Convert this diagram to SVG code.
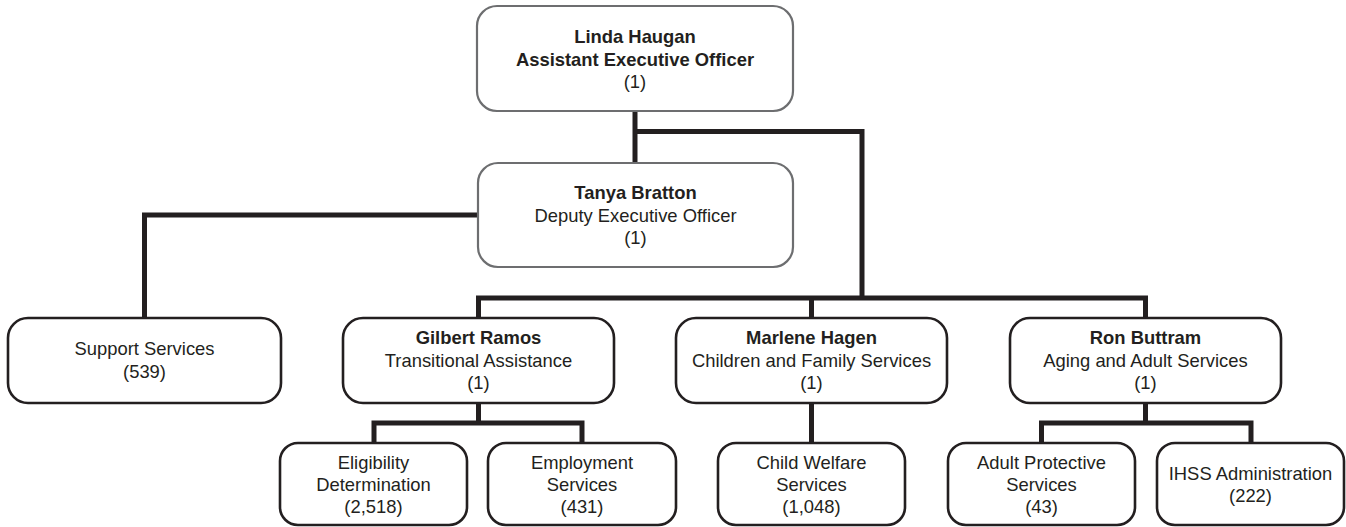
<svg xmlns="http://www.w3.org/2000/svg" width="1346" height="527" viewBox="0 0 1346 527">
<style>
.bg{fill:#ffffff}
.exec{fill:#ffffff;stroke:#6d6e70;stroke-width:2.2}
.box{fill:#ffffff;stroke:#231f20;stroke-width:2.6}
.conn{fill:none;stroke:#231f20;stroke-width:5;stroke-linejoin:miter;stroke-linecap:butt}
text{font-family:"Liberation Sans",Arial,sans-serif;font-size:18.4px;fill:#231f20;text-anchor:middle}
.b{font-weight:bold}
</style>
<rect class="bg" x="0" y="0" width="1346" height="527"/>
<g id="connectors">
<path class="conn" d="M635 111 V163"/>
<path class="conn" d="M635 131.5 H862 V298"/>
<path class="conn" d="M478.5 318 V298 H1145.5 V318"/>
<path class="conn" d="M811.5 298 V318"/>
<path class="conn" d="M478 215 H144.5 V318"/>
<path class="conn" d="M478.5 403 V423"/>
<path class="conn" d="M374 443 V423 H582 V443"/>
<path class="conn" d="M811.5 403 V443"/>
<path class="conn" d="M1145.5 403 V423"/>
<path class="conn" d="M1041.5 443 V423 H1251 V443"/>
</g>
<g id="linda-haugan">
<rect class="exec" x="477" y="6" width="316" height="105" rx="20"/>
<text class="b" x="635" y="43">Linda Haugan</text>
<text class="b" x="635" y="65.5">Assistant Executive Officer</text>
<text x="635" y="88">(1)</text>
</g>
<g id="tanya-bratton">
<rect class="exec" x="478" y="163" width="315" height="104" rx="20"/>
<text class="b" x="635.5" y="199">Tanya Bratton</text>
<text x="635.5" y="221.5">Deputy Executive Officer</text>
<text x="635.5" y="244">(1)</text>
</g>
<g id="support-services">
<rect class="box" x="8" y="318" width="273" height="85" rx="20"/>
<text x="144.5" y="355">Support Services</text>
<text x="144.5" y="377.5">(539)</text>
</g>
<g id="gilbert-ramos">
<rect class="box" x="343" y="318" width="271" height="85" rx="20"/>
<text class="b" x="478.5" y="344">Gilbert Ramos</text>
<text x="478.5" y="366.5">Transitional Assistance</text>
<text x="478.5" y="389">(1)</text>
</g>
<g id="marlene-hagen">
<rect class="box" x="676" y="318" width="271" height="85" rx="20"/>
<text class="b" x="811.5" y="344">Marlene Hagen</text>
<text x="811.5" y="366.5">Children and Family Services</text>
<text x="811.5" y="389">(1)</text>
</g>
<g id="ron-buttram">
<rect class="box" x="1010" y="318" width="271" height="85" rx="20"/>
<text class="b" x="1145.5" y="344">Ron Buttram</text>
<text x="1145.5" y="366.5">Aging and Adult Services</text>
<text x="1145.5" y="389">(1)</text>
</g>
<g id="eligibility-determination">
<rect class="box" x="280" y="443" width="187" height="82" rx="18"/>
<text x="373.5" y="469">Eligibility</text>
<text x="373.5" y="491">Determination</text>
<text x="373.5" y="513">(2,518)</text>
</g>
<g id="employment-services">
<rect class="box" x="488" y="443" width="188" height="82" rx="18"/>
<text x="582" y="469">Employment</text>
<text x="582" y="491">Services</text>
<text x="582" y="513">(431)</text>
</g>
<g id="child-welfare-services">
<rect class="box" x="718" y="443" width="187" height="82" rx="18"/>
<text x="811.5" y="469">Child Welfare</text>
<text x="811.5" y="491">Services</text>
<text x="811.5" y="513">(1,048)</text>
</g>
<g id="adult-protective-services">
<rect class="box" x="948" y="443" width="187" height="82" rx="18"/>
<text x="1041.5" y="469">Adult Protective</text>
<text x="1041.5" y="491">Services</text>
<text x="1041.5" y="513">(43)</text>
</g>
<g id="ihss-administration">
<rect class="box" x="1157" y="443" width="187" height="82" rx="18"/>
<text x="1250.5" y="480">IHSS Administration</text>
<text x="1250.5" y="502">(222)</text>
</g>
</svg>
